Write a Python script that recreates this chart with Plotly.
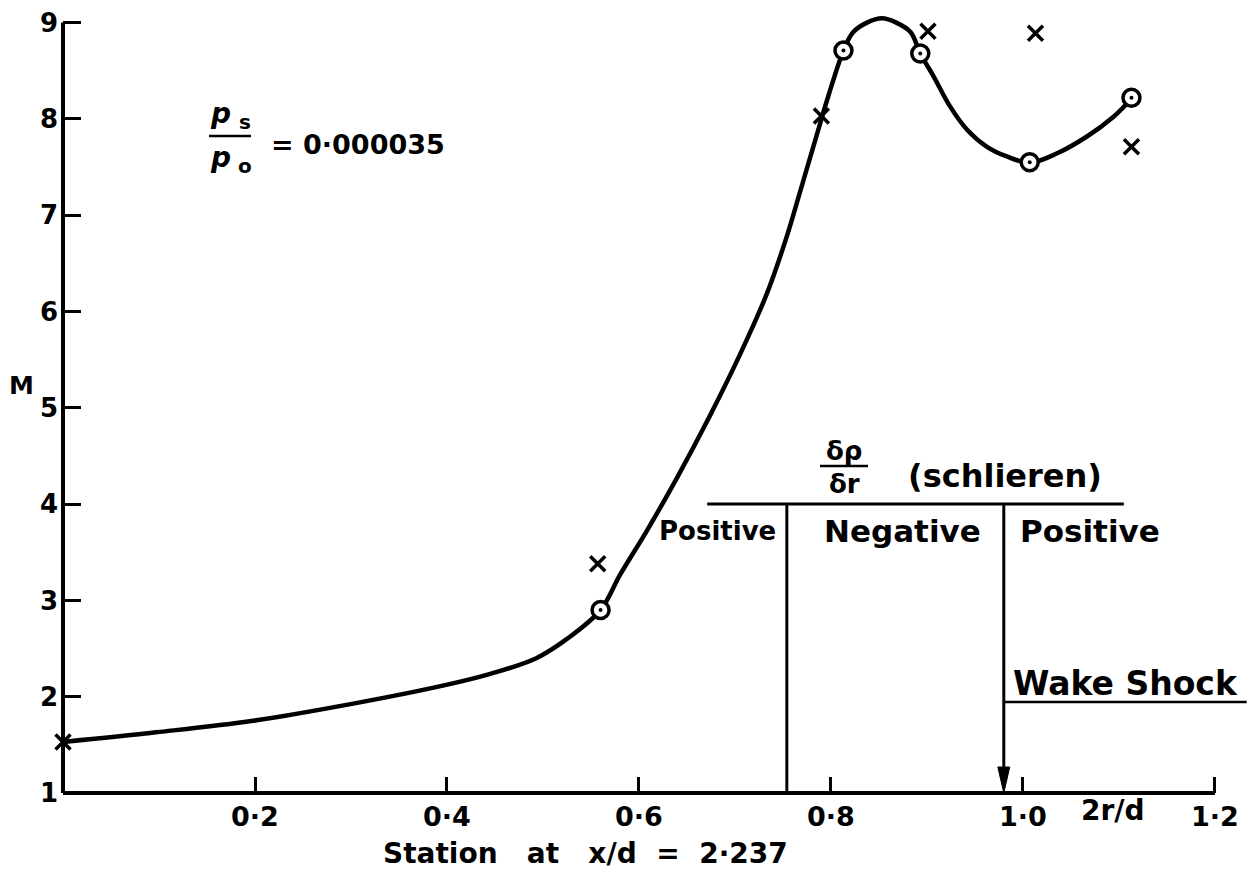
import plotly.graph_objects as go

# ---- data ----
circle_x = [0.560, 0.813, 0.893, 1.007, 1.113]
circle_M = [2.90, 8.71, 8.68, 7.55, 8.22]

cross_x = [0.0, 0.557, 0.790, 0.901, 1.013, 1.113]
cross_M = [1.53, 3.38, 8.03, 8.91, 8.89, 7.71]

curve_x = [0.0, 0.097, 0.198, 0.298, 0.398, 0.446, 0.493, 0.525, 0.560,
           0.5805, 0.608, 0.640, 0.674, 0.7055, 0.733, 0.754, 0.768, 0.7836,
           0.797, 0.813, 0.823, 0.8375, 0.853, 0.868, 0.883, 0.893,
           0.907, 0.924, 0.942, 0.9625, 0.983, 1.007, 1.035, 1.067, 1.094, 1.113]
curve_M = [1.53, 1.63, 1.75, 1.92, 2.12, 2.24, 2.40, 2.60, 2.90,
           3.27, 3.72, 4.28, 4.92, 5.56, 6.18, 6.78, 7.25, 7.78,
           8.23, 8.71, 8.90, 9.00, 9.045, 9.00, 8.90, 8.68,
           8.44, 8.13, 7.885, 7.71, 7.61, 7.545, 7.64, 7.82, 8.02, 8.21]

x_ticks = [0.2, 0.4, 0.6, 0.8, 1.0, 1.2]
x_ticktext = ["0·2", "0·4", "0·6", "0·8", "1·0", "1·2"]
y_ticks = [1, 2, 3, 4, 5, 6, 7, 8, 9]

# schlieren regions
schl_level = 4.0
schl_x0, schl_x1 = 0.671, 1.105
boundary_1 = 0.754      # Positive / Negative
boundary_2 = 0.980      # Negative / Positive (wake shock)
wake_M = 1.945
wake_x_end = 1.233

X_MAX = 1.2396
Y_MIN, Y_MAX = 1.0, 9.1205

W, H = 1260, 878
ML, MR, MT, MB = 63, 7, 11, 85
PW, PH = W - ML - MR, H - MT - MB

FONT = "DejaVu Sans"


def px2paper(px, py):
    return (px - ML) / PW, (H - MB - py) / PH


fig = go.Figure()

fig.add_trace(go.Scatter(x=curve_x, y=curve_M, mode="lines",
                         line=dict(color="black", width=4.5, shape="spline", smoothing=1.0),
                         hoverinfo="skip", showlegend=False))

fig.add_trace(go.Scatter(x=cross_x, y=cross_M, mode="markers", cliponaxis=False,
                         marker=dict(symbol="x-thin", size=15, color="black",
                                     line=dict(color="black", width=3.5)),
                         showlegend=False))

fig.add_trace(go.Scatter(x=circle_x, y=circle_M, mode="markers", cliponaxis=False,
                         marker=dict(symbol="circle", size=17, color="white",
                                     line=dict(color="black", width=3.5)),
                         showlegend=False))
fig.add_trace(go.Scatter(x=circle_x, y=circle_M, mode="markers", cliponaxis=False,
                         marker=dict(symbol="circle", size=4, color="black",
                                     line=dict(width=0)),
                         showlegend=False))

shapes = []
# axis lines (paper coordinates so they are not clipped)
shapes.append(dict(type="line", xref="paper", yref="paper",
                   x0=0, x1=0, y0=0, y1=(9 - Y_MIN) / (Y_MAX - Y_MIN),
                   line=dict(color="black", width=4)))
shapes.append(dict(type="line", xref="paper", yref="paper",
                   x0=0, x1=1.2 / X_MAX, y0=0, y1=0,
                   line=dict(color="black", width=4)))
# schlieren horizontal line and boundaries
shapes.append(dict(type="line", xref="x", yref="y", x0=schl_x0, x1=schl_x1,
                   y0=schl_level, y1=schl_level, line=dict(color="black", width=3)))
shapes.append(dict(type="line", xref="x", yref="y", x0=boundary_1, x1=boundary_1,
                   y0=Y_MIN, y1=schl_level, line=dict(color="black", width=3)))
shapes.append(dict(type="line", xref="x", yref="y", x0=boundary_2, x1=boundary_2,
                   y0=Y_MIN + 0.15, y1=schl_level, line=dict(color="black", width=3)))
# arrow head at the wake-shock boundary
ah_w, ah_h = 0.0062, 0.27
shapes.append(dict(type="path", xref="x", yref="y",
                   path=(f"M {boundary_2},{Y_MIN} L {boundary_2 - ah_w},{Y_MIN + ah_h} "
                         f"L {boundary_2 + ah_w},{Y_MIN + ah_h} Z"),
                   fillcolor="black", line=dict(color="black", width=1)))
# wake shock label line
shapes.append(dict(type="line", xref="x", yref="y", x0=boundary_2, x1=wake_x_end,
                   y0=wake_M, y1=wake_M, line=dict(color="black", width=2.5)))
# fraction bars
fx0, fy0 = px2paper(209, 136)
fx1, _ = px2paper(251, 136)
shapes.append(dict(type="line", xref="paper", yref="paper", x0=fx0, x1=fx1,
                   y0=fy0, y1=fy0, line=dict(color="black", width=2.5)))
gx0, gy0 = px2paper(820, 466)
gx1, _ = px2paper(868, 466)
shapes.append(dict(type="line", xref="paper", yref="paper", x0=gx0, x1=gx1,
                   y0=gy0, y1=gy0, line=dict(color="black", width=2.5)))

annotations = []


def label(text, px, py, size, xanchor="center", italic=False, weight="bold"):
    xp, yp = px2paper(px, py)
    annotations.append(dict(x=xp, y=yp, xref="paper", yref="paper", text=text,
                            showarrow=False, xanchor=xanchor, yanchor="middle",
                            borderpad=0,
                            font=dict(family=FONT, size=size, color="black",
                                      weight=weight,
                                      style="italic" if italic else "normal")))


label("M", 21, 385, 25)
label("Station   at   x/d  =  2·237", 585, 853, 28)
label("2r/d", 1113, 810, 28)
label("p", 220, 114, 28, italic=True)
label("s", 245, 122, 20)
label("p", 220, 158, 28, italic=True)
label("o", 245, 166, 20)
label("= 0·000035", 270, 144, 27, xanchor="left")
label("δρ", 844, 451, 26)
label("δr", 844, 484, 26)
label("(schlieren)", 1005, 476, 32)
label("Positive", 717, 531, 26)
label("Negative", 902, 531, 31)
label("Positive", 1090, 531, 31)
label("Wake Shock", 1125, 683, 33)

fig.update_layout(
    width=W, height=H,
    margin=dict(l=ML, r=MR, t=MT, b=MB),
    paper_bgcolor="white", plot_bgcolor="white",
    showlegend=False,
    shapes=shapes, annotations=annotations,
    xaxis=dict(range=[0, X_MAX], tickvals=x_ticks, ticktext=x_ticktext,
               ticks="inside", ticklen=16, tickwidth=3, tickcolor="black",
               showline=False, showgrid=False, zeroline=False,
               ticklabelstandoff=5,
               tickfont=dict(family=FONT, size=27, color="black", weight="bold")),
    yaxis=dict(range=[Y_MIN, Y_MAX], tickvals=y_ticks,
               ticks="inside", ticklen=18, tickwidth=3, tickcolor="black",
               showline=False, showgrid=False, zeroline=False,
               ticklabelstandoff=4,
               tickfont=dict(family=FONT, size=26, color="black", weight="bold")),
)

fig.write_html("out.html")
